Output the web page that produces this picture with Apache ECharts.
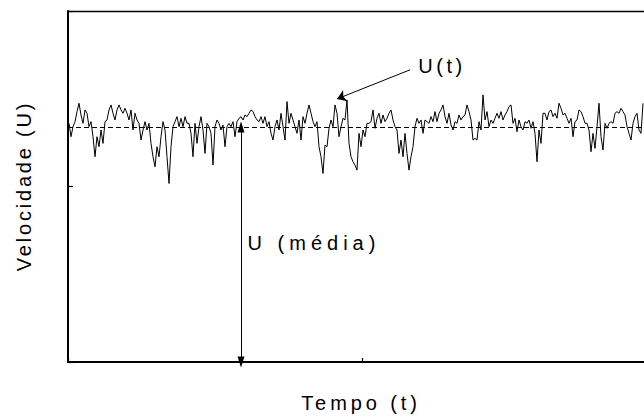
<!DOCTYPE html>
<html>
<head>
<meta charset="utf-8">
<script src="https://cdn.jsdelivr.net/npm/echarts@6/dist/echarts.min.js"></script>
<style>
html,body{margin:0;padding:0;background:#fff;}
#chart{width:644px;height:419px;}
</style>
</head>
<body>
<div id="chart"></div>
<script>
// time axis: ms units, one sample every 2 ms
const timeStep = 2;
const timeStart = 1;
const timeMin = 0;
const timeMax = 576;
const timeTicks = [0, 294];
const velocityTicks = [0, 52.5, 105];
const meanVelocity = 70.3;

// velocity samples in six consecutive pieces
const seg1 = [71.4,67.4,70.4,71.9,74.9,77.4,73.9,71.4,75.4,74.4,70.4,71.9,67.4,61.4,67.4,64.4,69.4,65.4,71.9,72.4,75.4,76.9,74.4,72.4,75.4,76.9,75.4,74.4,75.9,74.4,72.4,75.4,69.4,74.4,72.4,71.4,66.4,69.4,71.9,69.4,71.4,65.4,61.4,58.4,64.4,61.4,67.4,71.9];
const seg2 = [69.4,61.4,53.4,64.4,70.4,71.9,73.4,70.4,72.9,70.4,73.4,71.4,71.4,68.4,61.4,71.4,65.4,70.4,73.4,69.4,62.4,71.4,70.4,68.4,58.9,70.4,72.4,71.4,69.4,70.9,64.4,70.4,71.4,70.4,71.9,67.4,71.9,72.9,73.4,72.4,73.9,73.4,74.4,75.4,74.9,73.4,72.4,71.9];
const seg3 = [73.4,71.4,73.4,70.4,71.9,68.4,66.4,70.4,72.4,69.4,74.4,70.4,66.4,77.9,71.4,74.4,72.4,70.4,68.4,72.4,66.4,73.4,71.4,74.4,76.9,74.4,71.9,70.4,71.9,64.4,61.4,56.4,64.9,64.4,69.9,72.4,70.4,76.9,74.4,67.4,70.4,72.9,72.4,78.4,65.4,61.4,59.9,58.9];
const seg4 = [57.4,68.4,64.4,69.4,67.4,71.4,71.4,71.9,75.4,69.9,72.9,74.4,71.4,73.9,71.9,72.9,74.4,75.4,72.4,70.4,69.4,62.4,66.4,61.4,68.4,62.4,57.4,61.4,64.4,70.4,72.9,71.4,72.4,68.4,72.4,71.9,71.4,73.4,71.9,74.9,71.9,74.4,75.4,76.9,73.4,71.4,74.4,70.9];
const seg5 = [69.4,71.9,71.4,73.9,72.4,73.4,73.9,76.9,74.9,72.4,66.4,66.9,66.4,71.9,69.4,79.9,72.4,74.9,70.4,72.4,71.4,72.9,74.4,72.9,74.9,72.4,73.9,74.9,76.4,76.9,71.4,72.9,68.9,72.4,70.4,69.4,71.9,71.4,72.4,69.9,71.9,68.4,59.9,69.4,65.4,74.4,74.4,72.4];
const seg6 = [74.9,75.4,73.4,74.4,72.9,77.4,75.9,73.9,74.4,72.9,71.4,72.9,67.4,71.9,72.4,75.4,74.9,73.4,71.4,71.4,69.4,62.9,68.4,63.9,70.4,77.4,67.4,63.4,71.4,69.9,71.4,71.9,71.4,74.4,74.9,74.4,75.9,74.9,73.9,70.4,68.4,66.4,71.4,73.4,74.4,69.4,68.4,77.4];

const velocity = [].concat(seg1, seg2, seg3, seg4, seg5, seg6);
const time = velocity.map((_, i) => timeStart + i * timeStep);

// annotation anchors (data units)
const meanArrowTime = 173;
const utArrowFrom = [342, 87.4];
const utArrowTo = [269, 78.7];

// labels
const labelUt = 'U(t)';
const labelMean = 'U (média)';
const labelX = 'Tempo (t)';
const labelY = 'Velocidade (U)';
const spacing = {};
spacing[labelUt] = 3.6;
spacing[labelMean] = 5;
spacing[labelX] = 3.9;
spacing[labelY] = 2.8;

const FONT = '"Liberation Sans", Arial, sans-serif';
const FS = 20;
const chart = echarts.init(document.getElementById('chart'), null, {renderer: 'svg'});

function txt(text, x, y, rot) {
  const o = {type: 'text', x: x, y: y, style: {text: text, font: FS + 'px ' + FONT, fill: '#000', textAlign: 'center', textVerticalAlign: 'middle'}};
  if (rot) { o.rotation = rot; }
  return o;
}

const axisStyle = {color: '#000', width: 2};
chart.setOption({
  animation: false,
  backgroundColor: '#ffffff',
  grid: {left: 68, right: 0, top: 11, bottom: 57, show: false},
  xAxis: [{
    type: 'value', min: timeMin, max: timeMax, interval: timeTicks[1] - timeTicks[0],
    axisLine: {onZero: false, lineStyle: axisStyle},
    axisTick: {inside: true, length: 4, customValues: timeTicks, lineStyle: {color: '#000', width: 1.2}},
    axisLabel: {show: false}, splitLine: {show: false}
  }, {
    type: 'value', position: 'top', min: timeMin, max: timeMax,
    axisLine: {onZero: false, lineStyle: {color: '#000', width: 1.3}},
    axisTick: {show: false}, axisLabel: {show: false}, splitLine: {show: false}
  }],
  yAxis: {
    type: 'value', min: velocityTicks[0], max: velocityTicks[2], interval: velocityTicks[1] - velocityTicks[0],
    axisLine: {show: true, onZero: false, lineStyle: axisStyle},
    axisTick: {show: true, inside: true, length: 5, lineStyle: {color: '#000', width: 1.2}},
    axisLabel: {show: false}, splitLine: {show: false}
  },
  series: [{
    type: 'line',
    data: time.map((t, i) => [t, velocity[i]]),
    showSymbol: false,
    lineStyle: {color: '#000', width: 1},
    z: 3,
    markLine: {
      silent: true,
      animation: false,
      label: {show: false},
      symbol: 'none',
      data: [
        {yAxis: meanVelocity, symbol: 'none', lineStyle: {color: '#000', width: 1, type: [5, 3]}},
        [
          {coord: [meanArrowTime, velocityTicks[0]], symbol: 'triangle', symbolSize: [7, 11], symbolRotate: 180},
          {coord: [meanArrowTime, meanVelocity], symbol: 'triangle', symbolSize: [7, 11], symbolRotate: 0,
           lineStyle: {color: '#000', width: 1, type: 'solid'}}
        ],
        [
          {coord: utArrowFrom, symbol: 'none'},
          {coord: utArrowTo, symbol: 'arrow', symbolSize: 9,
           lineStyle: {color: '#000', width: 1, type: 'solid'}}
        ]
      ],
      lineStyle: {color: '#000', width: 1, type: 'solid'}
    }
  }],
  graphic: [
    txt(labelUt, 442, 66),
    txt(labelMean, 314, 243),
    txt(labelX, 361, 403),
    txt(labelY, 24, 186, Math.PI / 2)
  ]
});

function applySpacing() {
  document.querySelectorAll('#chart text').forEach(function (el) {
    const t = el.textContent;
    if (spacing[t] !== undefined) { el.style.letterSpacing = spacing[t] + 'px'; }
  });
}
applySpacing();
chart.on('finished', applySpacing);
</script>
</body>
</html>
